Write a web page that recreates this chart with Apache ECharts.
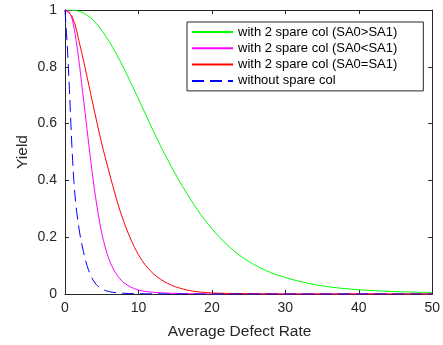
<!DOCTYPE html>
<html>
<head>
<meta charset="utf-8">
<script src="https://cdn.jsdelivr.net/npm/echarts@6/dist/echarts.min.js"></script>
<style>html,body{margin:0;padding:0;background:#fff;}#c{width:443px;height:345px;}</style>
</head>
<body>
<div id="c"></div>
<script>
var seriesNames = ['with 2 spare col (SA0>SA1)', 'with 2 spare col (SA0<SA1)', 'with 2 spare col (SA0=SA1)', 'without spare col'];

var greenX = [0, 1, 2, 3, 4, 5, 6, 7, 8, 9, 10, 11, 12, 13, 14, 15, 16, 17, 18, 19, 20, 21, 22, 23, 24, 25, 26, 27, 28, 30, 33, 36, 40, 45, 50];
var greenY = [1, 0.999, 0.995, 0.982, 0.96, 0.928, 0.89, 0.845, 0.795, 0.742, 0.687, 0.631, 0.575, 0.522, 0.472, 0.424, 0.379, 0.337, 0.298, 0.262, 0.23, 0.201, 0.175, 0.152, 0.132, 0.115, 0.1, 0.087, 0.076, 0.058, 0.038, 0.025, 0.015, 0.0085, 0.005];

var magentaX = [0, 0.5, 1, 1.5, 2, 2.5, 3, 3.5, 4, 4.5, 5, 5.5, 6, 6.5, 7, 7.5, 8, 9, 10, 11, 12, 14, 17, 20, 50];
var magentaY = [1, 0.995, 0.965, 0.895, 0.8, 0.69, 0.58, 0.47, 0.37, 0.285, 0.215, 0.162, 0.122, 0.092, 0.07, 0.053, 0.04, 0.024, 0.014, 0.009, 0.006, 0.003, 0.001, 0, 0];

var redX = [0, 1, 2, 3, 4, 5, 6, 7, 8, 9, 10, 11, 12, 13, 14, 15, 16, 17, 18, 19, 20, 22, 25, 30, 50];
var redY = [1, 0.975, 0.88, 0.765, 0.645, 0.53, 0.43, 0.335, 0.255, 0.19, 0.138, 0.1, 0.072, 0.052, 0.037, 0.026, 0.018, 0.012, 0.008, 0.0055, 0.0038, 0.002, 0.001, 0, 0];

var blueX = [0, 0.2, 0.4, 0.6, 0.8, 1.0, 1.2, 1.5, 2.0, 2.5, 3.0, 3.5, 4, 4.5, 5, 5.65, 6.5, 8, 10, 15, 50];
var blueY = [1, 0.92, 0.83, 0.72, 0.6, 0.49, 0.4, 0.31, 0.215, 0.15, 0.1, 0.065, 0.042, 0.027, 0.018, 0.011, 0.006, 0.0025, 0.001, 0, 0];

var xTicks = {min: 0, max: 50, interval: 10};
var yTicks = {min: 0, max: 1, interval: 0.2};

function pairs(xs, ys) { return xs.map(function (x, i) { return [x, ys[i]]; }); }

var axisColor = '#262626';
var font = 'Liberation Sans, Arial, Helvetica, sans-serif';

function mkX(pos, show) {
  return {
    type: 'value', position: pos, min: xTicks.min, max: xTicks.max, interval: xTicks.interval,
    axisLine: {show: true, onZero: false, lineStyle: {color: axisColor, width: 1}},
    axisTick: {show: true, inside: true, length: 4, lineStyle: {color: axisColor}},
    axisLabel: {show: show, margin: 7, color: axisColor, fontSize: 14, fontFamily: font},
    splitLine: {show: false},
    name: show ? 'Average Defect Rate' : '', nameLocation: 'middle', nameGap: 30,
    nameTextStyle: {color: axisColor, fontSize: 15.5, fontFamily: font, padding: [0, 18, 0, 0]}
  };
}
function mkY(pos, show) {
  return {
    type: 'value', position: pos, min: yTicks.min, max: yTicks.max, interval: yTicks.interval,
    axisLine: {show: true, onZero: false, lineStyle: {color: axisColor, width: 1}},
    axisTick: {show: true, inside: true, length: 4, lineStyle: {color: axisColor}},
    axisLabel: {show: show, margin: 8, color: axisColor, fontSize: 14, fontFamily: font},
    splitLine: {show: false},
    name: show ? 'Yield' : '', nameLocation: 'middle', nameGap: 34, nameMoveOverlap: false,
    nameTextStyle: {color: axisColor, fontSize: 15.5, fontFamily: font}
  };
}

function mkSeries(name, data, color, type) {
  return {
    name: name, type: 'line', data: data, xAxisIndex: 0, yAxisIndex: 0,
    symbol: 'none', smooth: 0.35,
    lineStyle: {color: color, width: 1, type: type || 'solid'},
    itemStyle: {color: color}
  };
}

var chart = echarts.init(document.getElementById('c'), null, {renderer: 'canvas'});
chart.setOption({
  animation: false,
  backgroundColor: '#fff',
  grid: {left: 65, right: 9, top: 10, bottom: 50},
  xAxis: [mkX('bottom', true), mkX('top', false)],
  yAxis: [mkY('left', true), mkY('right', false)],
  legend: {
    orient: 'vertical', left: 187, top: 22,
    data: seriesNames,
    itemWidth: 41, itemHeight: 14, itemGap: 2.3,
    padding: [3, 26, 3, 4],
    backgroundColor: '#fff', borderColor: axisColor, borderWidth: 1,
    itemStyle: {opacity: 0},
    textStyle: {color: '#000', fontSize: 13, fontFamily: font, lineHeight: 14}
  },
  series: [
    mkSeries(seriesNames[0], pairs(greenX, greenY), '#00ff00'),
    mkSeries(seriesNames[1], pairs(magentaX, magentaY), '#ff00ff'),
    mkSeries(seriesNames[2], pairs(redX, redY), '#ff0000'),
    mkSeries(seriesNames[3], pairs(blueX, blueY), '#0000ff', [12, 6])
  ]
});
</script>
</body>
</html>
